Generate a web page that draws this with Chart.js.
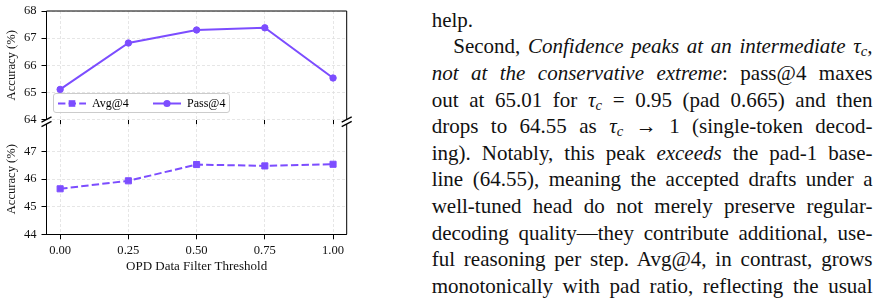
<!DOCTYPE html>
<html>
<head>
<meta charset="utf-8">
<script src="https://cdn.jsdelivr.net/npm/chart.js@4.4.1/dist/chart.umd.min.js"></script>
<style>
  html, body { margin: 0; padding: 0; background: #fff; }
  body { width: 877px; height: 298px; position: relative; overflow: hidden;
         font-family: "Liberation Serif", "Times New Roman", serif; color: #000; }
  canvas { position: absolute; left: 0; top: 0; }
  #legend { position: absolute; left: 53px; top: 92.7px; width: 177px; height: 20px;
            box-sizing: border-box; border: 1px solid #cccccc; border-radius: 3px;
            background: rgba(255,255,255,0.85); }
  #legend svg { position: absolute; top: 0; }
  #legend span { position: absolute; top: 0; line-height: 19px; font-size: 12px; color: #000; white-space: nowrap; }
  #para { position: absolute; left: 431.7px; top: 6.9px; width: 440.8px; font-size: 21px; color: #111; }
  .ln { height: 26.6px; line-height: 26.6px; white-space: nowrap; }
  .ln > span { display: inline-block; }
  sub { font-size: 0.7em; vertical-align: -0.22em; line-height: 0; }
</style>
</head>
<body>
<canvas id="top" width="360" height="298" style="width:360px;height:298px"></canvas>
<canvas id="bottom" width="360" height="298" style="width:360px;height:298px"></canvas>
<div id="legend"></div>

<div id="para">
  <div class="ln"><span>help.</span></div>
  <div class="ln j" data-indent="21.6" style="padding-left:21.6px"><span>Second, <i>Confidence peaks at an intermediate τ<sub>c</sub>,</i></span></div>
  <div class="ln j"><span><i>not at the conservative extreme</i>: pass@4 maxes</span></div>
  <div class="ln j"><span>out at 65.01 for <i>τ</i><sub><i>c</i></sub> = 0.95 (pad 0.665) and then</span></div>
  <div class="ln j"><span>drops to 64.55 as <i>τ</i><sub><i>c</i></sub> → 1 (single-token decod-</span></div>
  <div class="ln j"><span>ing). Notably, this peak <i>exceeds</i> the pad-1 base-</span></div>
  <div class="ln j"><span>line (64.55), meaning the accepted drafts under a</span></div>
  <div class="ln j"><span>well-tuned head do not merely preserve regular-</span></div>
  <div class="ln j"><span>decoding quality—they contribute additional, use-</span></div>
  <div class="ln j"><span>ful reasoning per step. Avg@4, in contrast, grows</span></div>
  <div class="ln j"><span>monotonically with pad ratio, reflecting the usual</span></div>
</div>

<script>
// ---------------- data ----------------
const thresholds   = [0.00, 0.25, 0.50, 0.75, 1.00];
const xTickLabels  = ['0.00', '0.25', '0.50', '0.75', '1.00'];
const pass4        = [65.11, 66.82, 67.30, 67.38, 65.53];
const avg4         = [45.65, 45.94, 46.53, 46.48, 46.54];
const topYTicks    = [64, 65, 66, 67, 68];
const bottomYTicks = [44, 45, 46, 47];
const topYRange    = [64, 68];
const bottomYRange = [44, 48];
const xRange       = [-0.05, 1.05];
const xTitle       = 'OPD Data Filter Threshold';
const yTitle       = 'Accuracy (%)';

// ---------------- style ----------------
const FAMILY = "'Liberation Serif', 'Times New Roman', serif";
const PURPLE = '#7C4DFF';
const GRID   = '#e0e0e0';
const CW = 360, CH = 298;
const AREA_L = 46.5, AREA_R = 346.7;
const TOP_T = 11, TOP_B = 119.5;
const BOT_T = 124, BOT_B = 234.3;
const X_AXIS_H = 42;

function zeroPad(s) { s.paddingTop = s.paddingBottom = s.paddingLeft = s.paddingRight = 0; }

function xScale(showLabels) {
  return {
    type: 'linear', min: xRange[0], max: xRange[1], bounds: 'data',
    afterBuildTicks: s => { s.ticks = thresholds.map(v => ({ value: v })); },
    afterFit: s => { s.height = showLabels ? X_AXIS_H : 5; zeroPad(s); },
    ticks: { display: showLabels, autoSkip: false, maxRotation: 0, minRotation: 0, padding: 3.5,
             color: '#111', font: { family: FAMILY, size: 12.6 },
             callback: (v, i) => xTickLabels[i] },
    grid: { color: GRID, lineWidth: 0.8, drawTicks: true, tickLength: 5,
            tickColor: '#000', tickWidth: 1, tickBorderDash: [] },
    border: { display: showLabels, color: '#000', width: 1, dash: [3, 2] },
    title: { display: showLabels, text: xTitle, color: '#111',
             font: { family: FAMILY, size: 13 }, padding: { top: 0, bottom: 2.3 } }
  };
}

function yScale(range, ticksArr) {
  return {
    type: 'linear', min: range[0], max: range[1], bounds: 'data',
    afterBuildTicks: s => { s.ticks = ticksArr.map(v => ({ value: v })); },
    afterFit: s => { s.width = AREA_L; zeroPad(s); },
    ticks: { color: '#111', font: { family: FAMILY, size: 12.6 }, padding: 5,
             callback: v => String(v) },
    grid: { color: GRID, lineWidth: 0.8, tickLength: 5, tickColor: '#000',
            tickWidth: 1, tickBorderDash: [] },
    border: { color: '#000', width: 1, dash: [3, 2] },
    title: { display: true, text: yTitle, color: '#111',
             font: { family: FAMILY, size: 12.6 }, padding: { top: 4, bottom: 0 } }
  };
}

// spines (top/right) and axis-break marks
const framePlugin = {
  id: 'frame',
  afterDraw(chart, args, opts) {
    const { ctx, chartArea: { left, right, top, bottom } } = chart;
    ctx.save();
    ctx.strokeStyle = '#000';
    ctx.lineWidth = 1;
    ctx.beginPath();
    if (opts.isTop) { ctx.moveTo(left, top); ctx.lineTo(right, top); }
    ctx.moveTo(right, top); ctx.lineTo(right, bottom);
    ctx.stroke();
    const yb = opts.isTop ? bottom : top;
    ctx.lineWidth = 1.3;
    ctx.beginPath();
    [left, right].forEach(x => { ctx.moveTo(x - 5, yb + 2.6); ctx.lineTo(x + 5, yb - 2.6); });
    ctx.stroke();
    ctx.restore();
  }
};

function makeChart(id, dataset, yRange, yTicks, isTop) {
  const padTop = isTop ? TOP_T : BOT_T;
  const padBottom = isTop ? (CH - TOP_B - 5) : (CH - BOT_B - X_AXIS_H);
  return new Chart(document.getElementById(id), {
    type: 'line',
    data: { datasets: [dataset] },
    options: {
      responsive: false, animation: false, devicePixelRatio: 1,
      layout: { padding: { left: 0, right: CW - AREA_R, top: padTop, bottom: padBottom } },
      scales: { x: xScale(!isTop), y: yScale(yRange, yTicks) },
      plugins: { legend: { display: false }, tooltip: { enabled: false }, frame: { isTop } },
      events: []
    },
    plugins: [framePlugin]
  });
}

const passDataset = {
  label: 'Pass@4',
  data: thresholds.map((x, i) => ({ x, y: pass4[i] })),
  borderColor: PURPLE, backgroundColor: PURPLE, borderWidth: 2,
  pointStyle: 'circle', pointRadius: 3.2, pointBorderWidth: 1,
  pointBackgroundColor: PURPLE, pointBorderColor: PURPLE, tension: 0
};
const avgDataset = {
  label: 'Avg@4',
  data: thresholds.map((x, i) => ({ x, y: avg4[i] })),
  borderColor: PURPLE, backgroundColor: PURPLE, borderWidth: 2, borderDash: [7.4, 3.2],
  pointStyle: 'rect', pointRadius: 4.3, pointBorderWidth: 1,
  pointBackgroundColor: PURPLE, pointBorderColor: PURPLE, tension: 0
};

const topChart = makeChart('top', passDataset, topYRange, topYTicks, true);
const bottomChart = makeChart('bottom', avgDataset, bottomYRange, bottomYTicks, false);

// legend built from the chart datasets
(function buildLegend() {
  const lg = document.getElementById('legend');
  const items = [bottomChart.data.datasets[0], topChart.data.datasets[0]];
  const slots = [{ line: 3, text: 38 }, { line: 98, text: 133 }];
  const NS = 'http://www.w3.org/2000/svg';
  items.forEach((ds, k) => {
    const svg = document.createElementNS(NS, 'svg');
    svg.setAttribute('width', '30'); svg.setAttribute('height', '19');
    svg.style.left = slots[k].line + 'px';
    const ln = document.createElementNS(NS, 'line');
    ln.setAttribute('x1', '1'); ln.setAttribute('x2', '29');
    ln.setAttribute('y1', '9.5'); ln.setAttribute('y2', '9.5');
    ln.setAttribute('stroke', ds.borderColor); ln.setAttribute('stroke-width', ds.borderWidth);
    if (ds.borderDash) ln.setAttribute('stroke-dasharray', ds.borderDash.join(' '));
    svg.appendChild(ln);
    let mk;
    if (ds.pointStyle === 'rect') {
      mk = document.createElementNS(NS, 'rect');
      mk.setAttribute('x', 11.7); mk.setAttribute('y', 6.2);
      mk.setAttribute('width', 6.6); mk.setAttribute('height', 6.6);
    } else {
      mk = document.createElementNS(NS, 'circle');
      mk.setAttribute('cx', 15); mk.setAttribute('cy', 9.5); mk.setAttribute('r', 3.6);
    }
    mk.setAttribute('fill', ds.pointBackgroundColor);
    svg.appendChild(mk);
    lg.appendChild(svg);
    const sp = document.createElement('span');
    sp.textContent = ds.label;
    sp.style.left = slots[k].text + 'px';
    lg.appendChild(sp);
  });
})();

// justify each text line to the column width
function justify() {
  const W = 440.8;
  document.querySelectorAll('.ln.j').forEach(div => {
    div.style.wordSpacing = '0px';
    const span = div.firstElementChild;
    const indent = parseFloat(div.dataset.indent || '0');
    const natural = span.getBoundingClientRect().width;
    const spaces = (span.textContent.match(/[ \u00a0]/g) || []).length;
    if (spaces > 0) div.style.wordSpacing = ((W - indent - natural) / spaces) + 'px';
  });
}
justify();
if (document.fonts && document.fonts.ready) document.fonts.ready.then(justify);
</script>
</body>
</html>
